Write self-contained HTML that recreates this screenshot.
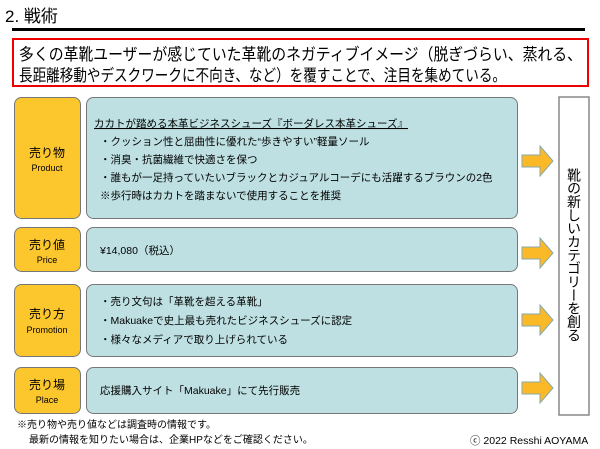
<!DOCTYPE html>
<html><head><meta charset="utf-8"><style>
body{margin:0;background:#fff;}
svg{display:block;font-family:"Liberation Sans","Noto Sans CJK JP",sans-serif;}
</style></head><body>
<svg width="600" height="449" viewBox="0 0 600 449" xmlns="http://www.w3.org/2000/svg">
<text x="5" y="22" font-size="17" fill="#000">2. 戦術</text>
<rect x="12" y="28" width="573" height="3" fill="#000"/>
<rect x="13" y="39" width="575" height="47" fill="#fff" stroke="#e00" stroke-width="2"/>
<text x="19" y="60" font-size="16.5" fill="#000" textLength="563" lengthAdjust="spacingAndGlyphs">多くの革靴ユーザーが感じていた革靴のネガティブイメージ（脱ぎづらい、蒸れる、</text>
<text x="19" y="81" font-size="16.5" fill="#000" textLength="487" lengthAdjust="spacingAndGlyphs">長距離移動やデスクワークに不向き、など）を覆すことで、注目を集めている。</text>

<g stroke="#777" stroke-width="1">
<rect x="14.5" y="97.5" width="66" height="121" rx="7" fill="#fcc72c"/>
<rect x="86.5" y="97.5" width="431" height="121" rx="7" fill="#bee0e2"/>
<rect x="14.5" y="227.5" width="66" height="44" rx="7" fill="#fcc72c"/>
<rect x="86.5" y="227.5" width="431" height="44" rx="7" fill="#bee0e2"/>
<rect x="14.5" y="284.5" width="66" height="72" rx="7" fill="#fcc72c"/>
<rect x="86.5" y="284.5" width="431" height="72" rx="7" fill="#bee0e2"/>
<rect x="14.5" y="367.5" width="66" height="46" rx="7" fill="#fcc72c"/>
<rect x="86.5" y="367.5" width="431" height="46" rx="7" fill="#bee0e2"/>
</g>
<rect x="559" y="97" width="30" height="318" fill="#fff" stroke="#888" stroke-width="1.5"/>
<g fill="#fbb928" stroke="#8aa" stroke-width="1">
<polygon points="522,155 540,155 540,146 553,161 540,176 540,167 522,167"/>
<polygon points="522,247 540,247 540,238 553,253 540,268 540,259 522,259"/>
<polygon points="522,314 540,314 540,305 553,320 540,335 540,326 522,326"/>
<polygon points="522,382 540,382 540,373 553,388 540,403 540,394 522,394"/>
</g>

<g text-anchor="middle" fill="#000">
<text x="47" y="157" font-size="12">売り物</text><text x="47" y="171" font-size="9">Product</text>
<text x="47" y="249" font-size="12">売り値</text><text x="47" y="263" font-size="9">Price</text>
<text x="47" y="318" font-size="12">売り方</text><text x="47" y="333" font-size="9">Promotion</text>
<text x="47" y="389" font-size="12">売り場</text><text x="47" y="403" font-size="9">Place</text>
</g>
<g font-size="10.5" fill="#000">
<text x="94" y="127" text-decoration="underline">カカトが踏める本革ビジネスシューズ『ボーダレス本革シューズ』</text>
<text x="100" y="145">・クッション性と屈曲性に優れた“歩きやすい”軽量ソール</text>
<text x="100" y="163">・消臭・抗菌繊維で快適さを保つ</text>
<text x="100" y="181">・誰もが一足持っていたいブラックとカジュアルコーデにも活躍するブラウンの2色</text>
<text x="100" y="199">※歩行時はカカトを踏まないで使用することを推奨</text>
<text x="100" y="254">¥14,080（税込）</text>
<text x="100" y="305">・売り文句は「革靴を超える革靴」</text>
<text x="100" y="324">・Makuakeで史上最も売れたビジネスシューズに認定</text>
<text x="100" y="343">・様々なメディアで取り上げられている</text>
<text x="100" y="394">応援購入サイト「Makuake」にて先行販売</text>
</g>
<text x="574" y="168" font-size="14" fill="#000" style="writing-mode:vertical-rl;text-orientation:upright" textLength="174" lengthAdjust="spacing">靴の新しいカテゴリーを創る</text>
<g font-size="10" fill="#000">
<text x="17" y="428">※売り物や売り値などは調査時の情報です。</text>
<text x="29" y="443">最新の情報を知りたい場合は、企業HPなどをご確認ください。</text>
<text x="470" y="444" font-size="10.5">ⓒ 2022 Resshi AOYAMA</text>
</g>
</svg>
</body></html>
